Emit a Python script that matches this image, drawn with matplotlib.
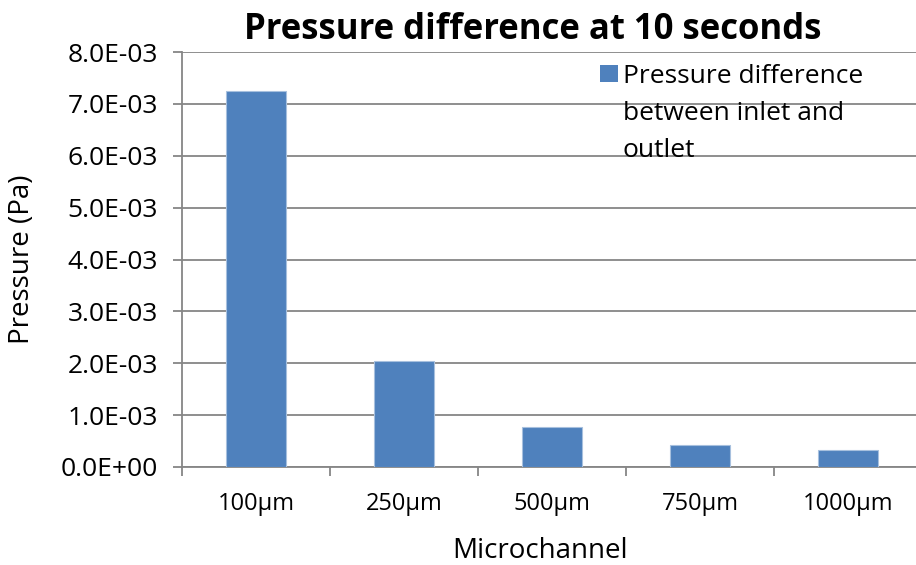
import matplotlib
matplotlib.use("Agg")
import matplotlib.pyplot as plt
from matplotlib.ticker import FixedLocator
from matplotlib.patches import Rectangle

categories = ["100µm", "250µm", "500µm", "750µm", "1000µm"]
values = [7.24e-3, 2.04e-3, 0.78e-3, 0.43e-3, 0.33e-3]
y_ticks = [0, 1e-3, 2e-3, 3e-3, 4e-3, 5e-3, 6e-3, 7e-3, 8e-3]
y_tick_labels = ["0.0E+00", "1.0E-03", "2.0E-03", "3.0E-03", "4.0E-03",
                 "5.0E-03", "6.0E-03", "7.0E-03", "8.0E-03"]
series_name = "Pressure difference\nbetween inlet and\noutlet"
title = "Pressure difference at 10 seconds"
x_label = "Microchannel"
y_label = "Pressure (Pa)"

plt.rcParams['font.family'] = ['Open Sans', 'DejaVu Sans']

W, H = 916, 565
fig = plt.figure(figsize=(W/100, H/100), dpi=100)
left, right, top, bottom = 182, 922, 52, 467
ax = fig.add_axes([left/W, 1-bottom/H, (right-left)/W, (bottom-top)/H])

def fx(px):
    return px / W

def fy(py):
    return 1 - py / H

bar_c = "#4F81BD"
grid_c = "#868686"
x = list(range(len(categories)))
ax.bar(x, values, width=0.4, color=bar_c, edgecolor="#A7C0DE",
       linewidth=0.8, zorder=3)

ax.set_xlim(-0.5, len(categories) - 0.5)
ax.set_ylim(0, 8e-3)
ax.yaxis.set_major_locator(FixedLocator(y_ticks))
ax.set_yticklabels(y_tick_labels)
ax.set_xticks(x)
ax.set_xticklabels(categories)
ax.set_xticks([i + 0.5 for i in range(-1, len(categories))], minor=True)
ax.tick_params(axis='x', which='major', length=0, pad=18, labelsize=17)
ax.tick_params(axis='x', which='minor', length=6.5, width=1.3, color=grid_c, direction='out')
ax.tick_params(axis='y', length=6.5, width=1.3, color=grid_c, direction='out', labelsize=19, pad=11)

ax.grid(axis='y', color=grid_c, linewidth=1.3, zorder=0)
for s in ['top', 'right']:
    ax.spines[s].set_visible(False)
for s in ['left', 'bottom']:
    ax.spines[s].set_color(grid_c)
    ax.spines[s].set_linewidth(1.3)

ax.set_ylabel(y_label, fontsize=20, va='center')
ax.yaxis.set_label_coords((22 - left) / (right - left), 0.5)
ax.set_xlabel(x_label, fontsize=20, va='center')
ax.xaxis.set_label_coords((540 - left) / (right - left), -(551 - bottom) / (bottom - top))

fig.text(fx(533), fy(39), title, fontsize=25, fontweight='bold',
         ha='center', va='baseline')

# legend key and text
fig.patches.append(Rectangle((fx(600), fy(82)), fx(618) - fx(600), fy(65) - fy(82),
                             transform=fig.transFigure, facecolor=bar_c,
                             edgecolor='none', figure=fig))
fig.text(fx(623), fy(64), series_name, fontsize=19, ha='left', va='top',
         linespacing=1.64)

fig.savefig("out.png", dpi=100)
